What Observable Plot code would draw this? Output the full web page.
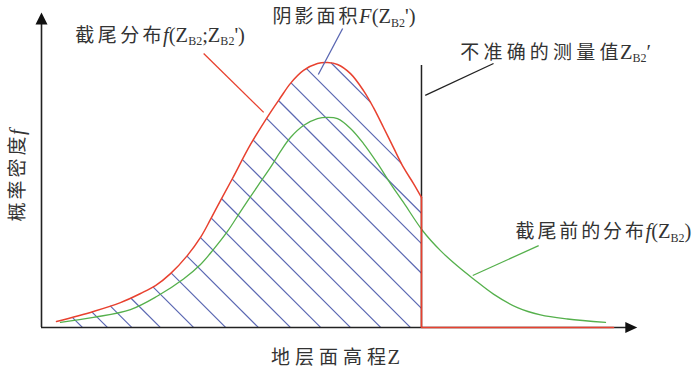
<!DOCTYPE html>
<html><head><meta charset="utf-8">
<script src="https://cdn.jsdelivr.net/npm/d3@7"></script>
<script src="https://cdn.jsdelivr.net/npm/@observablehq/plot@0.6"></script>
<style>html,body{margin:0;padding:0;background:#fff}svg{display:block}</style>
</head><body><div id="chart"></div>
<script>
// ---- data (Z in arbitrary units 0..10, density f in 0..1) ----
const redZ = [0.253, 0.875, 1.330, 1.667, 1.919, 2.172, 2.458, 2.677, 2.845, 3.013, 3.215, 3.519, 3.855, 4.024, 4.192, 4.411, 4.646, 4.815, 4.983, 5.202, 5.421, 5.589, 5.758, 5.926, 6.094, 6.263, 6.397];
const redF = [0.019, 0.051, 0.079, 0.108, 0.133, 0.171, 0.229, 0.286, 0.343, 0.403, 0.473, 0.581, 0.683, 0.730, 0.775, 0.816, 0.838, 0.841, 0.835, 0.806, 0.752, 0.698, 0.635, 0.571, 0.508, 0.457, 0.413];
const greenZ = [0.320, 0.875, 1.498, 1.953, 2.391, 2.677, 2.896, 3.131, 3.350, 3.636, 3.855, 4.024, 4.192, 4.411, 4.646, 4.815, 4.983, 5.202, 5.421, 5.657, 5.875, 6.094, 6.414, 6.717, 7.003, 7.273, 7.609, 8.013, 8.401, 8.855, 9.495];
const greenF = [0.016, 0.032, 0.057, 0.100, 0.154, 0.200, 0.248, 0.305, 0.368, 0.448, 0.508, 0.559, 0.603, 0.641, 0.663, 0.667, 0.663, 0.632, 0.584, 0.521, 0.457, 0.397, 0.308, 0.244, 0.195, 0.154, 0.106, 0.063, 0.040, 0.027, 0.016];
const truncZ = 6.397;         // inaccurate measurement Z_B2'
const truncMarkTop = 0.832;   // top of the black measurement line
const truncTailEnd = 9.63;    // end of red zero tail
const hatchBase = [0.69, 1.11, 1.52, 2.00, 2.56, 3.10, 3.65, 4.19, 4.70, 5.20, 5.71, 6.21, 6.72, 7.31, 7.81, 8.32, 8.82, 9.33];
const axisEnd = {x: 10.03, y: 1.0};
const labels = [
  "截尾分布*f*(Z_{B2};Z_{B2}')",
  "阴影面积*F*(Z_{B2}')",
  "不准确的测量值Z_{B2}′",
  "截尾前的分布*f*(Z_{B2})",
  "概率密度*f*",
  "地层面高程Z"
];
const leaders = [
  {x1: 2.73, y1: 0.870, x2: 3.74, y2: 0.683, c: "#e8412f"},
  {x1: 5.07, y1: 0.949, x2: 4.66, y2: 0.803, c: "#5a67b2"},
  {x1: 7.61, y1: 0.838, x2: 6.46, y2: 0.737, c: "#222"},
  {x1: 8.37, y1: 0.260, x2: 7.26, y2: 0.165, c: "#55b04c"}
];

// ---- layout ----
const W = 700, H = 367, mL = 41, mR = 65, mT = 12, mB = 40;
const xDom = [0, 10], yDom = [0, 1];
const pxPerZ = (W - mL - mR) / (xDom[1] - xDom[0]);
const pxPerF = (H - mT - mB) / (yDom[1] - yDom[0]);
const hatchSlope = pxPerZ / pxPerF; // 45° in screen space

// smooth (Catmull-Rom) evaluation of the red curve, so the hatching meets the drawn line
function catmull(X, Y, z) {
  if (z < X[0] || z > X[X.length - 1]) return NaN;
  let i = d3.bisectRight(X, z) - 1;
  if (i >= X.length - 1) i = X.length - 2;
  const t = (z - X[i]) / (X[i + 1] - X[i]);
  const p0 = Y[Math.max(0, i - 1)], p1 = Y[i], p2 = Y[i + 1], p3 = Y[Math.min(Y.length - 1, i + 2)];
  return 0.5 * ((2 * p1) + (-p0 + p2) * t + (2 * p0 - 5 * p1 + 4 * p2 - p3) * t * t + (-p0 + 3 * p1 - 3 * p2 + p3) * t * t * t);
}
const hatch = [];
for (const zb of hatchBase) {
  let run = null;
  const zEnd = Math.min(zb, truncZ);
  for (let z = redZ[0]; z <= zEnd + 1e-9; z += 0.002) {
    const f = hatchSlope * (zb - z);
    const inside = f <= catmull(redZ, redF, z);
    if (inside) {
      if (!run) run = {x1: z, y1: f};
      run.x2 = z; run.y2 = f;
    } else if (run) { hatch.push(run); run = null; }
  }
  if (run) hatch.push(run);
}
const red = redZ.map((z, i) => ({z, f: redF[i]}));
const green = greenZ.map((z, i) => ({z, f: greenF[i]}));
const redTail = [{z: truncZ, f: redF[redF.length - 1]}, {z: truncZ, f: 0}, {z: truncTailEnd, f: 0}];

const arrowUp = {draw(ctx) { ctx.moveTo(0, 0); ctx.lineTo(-6, 12); ctx.lineTo(6, 12); ctx.closePath(); }};
const arrowRight = {draw(ctx) { ctx.moveTo(0, 0); ctx.lineTo(-12, -5.5); ctx.lineTo(-12, 5.5); ctx.closePath(); }};

const txt = [
  {t: labels[0], x: 0.57, y: 0.927, a: "start", rot: 0, ls: 3.4},
  {t: labels[1], x: 3.89, y: 0.986, a: "start", rot: 0, ls: 3.0},
  {t: labels[2], x: 7.05, y: 0.873, a: "start", rot: 0, ls: 4.2},
  {t: labels[3], x: 7.98, y: 0.302, a: "start", rot: 0, ls: 2.9},
  {t: labels[4], x: -0.40, y: 0.483, a: "middle", rot: -90, ls: 3},
  {t: labels[5], x: 4.95, y: -0.095, a: "middle", rot: 0, ls: 5}
];

const plot = Plot.plot({
  width: W, height: H,
  marginLeft: mL, marginRight: mR, marginTop: mT, marginBottom: mB,
  x: {domain: xDom, axis: null},
  y: {domain: yDom, axis: null},
  style: {background: "#fff", color: "#333", overflow: "visible", fontFamily: '"Noto Sans CJK SC", sans-serif'},
  marks: [
    Plot.link(hatch, {x1: "x1", y1: "y1", x2: "x2", y2: "y2", stroke: "#5a67b2", strokeWidth: 1.2}),
    Plot.line(green, {x: "z", y: "f", stroke: "#55b04c", strokeWidth: 1.3, curve: "catmull-rom"}),
    Plot.ruleX([0], {y1: 0, y2: axisEnd.y - 0.02, stroke: "#222", strokeWidth: 1.6}),
    Plot.ruleY([0], {x1: 0, x2: axisEnd.x - 0.1, stroke: "#222", strokeWidth: 1.6}),
    Plot.dot([{x: 0, y: axisEnd.y}], {x: "x", y: "y", symbol: arrowUp, fill: "#111", stroke: "none", r: 5}),
    Plot.dot([{x: axisEnd.x, y: 0}], {x: "x", y: "y", symbol: arrowRight, fill: "#111", stroke: "none", r: 5}),
    Plot.ruleX([truncZ], {y1: 0, y2: truncMarkTop, stroke: "#222", strokeWidth: 1.5}),
    Plot.line(red, {x: "z", y: "f", stroke: "#e8412f", strokeWidth: 1.5, curve: "catmull-rom"}),
    Plot.line(redTail, {x: "z", y: "f", stroke: "#e8412f", strokeWidth: 1.6}),
    Plot.link(leaders, {x1: "x1", y1: "y1", x2: "x2", y2: "y2", stroke: "c", strokeWidth: 1.3}),
    ...txt.map(d => Plot.text([d], {x: "x", y: "y", text: "t", textAnchor: d.a, rotate: d.rot, fontSize: 19, fill: "#333"}))
  ]
});
document.getElementById("chart").appendChild(plot);

// ---- rich text (italics, subscripts, spacing) ----
const LATIN = '"Liberation Serif", "Times New Roman", serif';
const CJK = '"Noto Sans CJK SC", sans-serif';
const NS = "http://www.w3.org/2000/svg";
const cjkRe = /[\u2e80-\u9fff\uff00-\uffef]+|[^\u2e80-\u9fff\uff00-\uffef]+/g;
function rich(el, spacing) {
  const s = el.textContent;
  el.textContent = "";
  const parts = s.split(/(_\{[^}]*\}|\*[^*]*\*)/).filter(p => p);
  let shifted = false;
  const add = (t, style, dy) => {
    const ts = document.createElementNS(NS, "tspan");
    ts.textContent = t;
    Object.assign(ts.style, style);
    if (dy) ts.setAttribute("dy", dy);
    el.appendChild(ts);
  };
  for (const p of parts) {
    if (p.startsWith("_{")) {
      add(p.slice(2, -1), {fontFamily: LATIN, fontSize: "12px", letterSpacing: "0px"}, shifted ? 0 : 3.5);
      shifted = true;
      continue;
    }
    const italic = p.startsWith("*");
    const body = italic ? p.slice(1, -1) : p;
    const runs = body.match(cjkRe);
    runs.forEach(run => {
      const isCJK = /[\u2e80-\u9fff\uff00-\uffef]/.test(run);
      if (isCJK) {
        // spacing between CJK glyphs only (no trailing gap before a following Latin glyph)
        const head = run.slice(0, -1), tail = run.slice(-1);
        if (head) { add(head, {fontFamily: CJK, fontSize: "19px", fontStyle: "normal", letterSpacing: spacing + "px"}, shifted ? -3.5 : 0); shifted = false; }
        add(tail, {fontFamily: CJK, fontSize: "19px", fontStyle: "normal", letterSpacing: "1.5px"}, shifted ? -3.5 : 0);
      } else {
        add(run, {fontFamily: LATIN, fontSize: "20.5px", fontStyle: italic ? "italic" : "normal", letterSpacing: "0px"}, shifted ? -3.5 : 0);
      }
      shifted = false;
    });
  }
}
const spacingByText = new Map(txt.map(d => [d.t, d.ls]));
plot.querySelectorAll("text").forEach(el => {
  const s = el.textContent;
  if (spacingByText.has(s)) rich(el, spacingByText.get(s));
});
</script>
</body></html>
